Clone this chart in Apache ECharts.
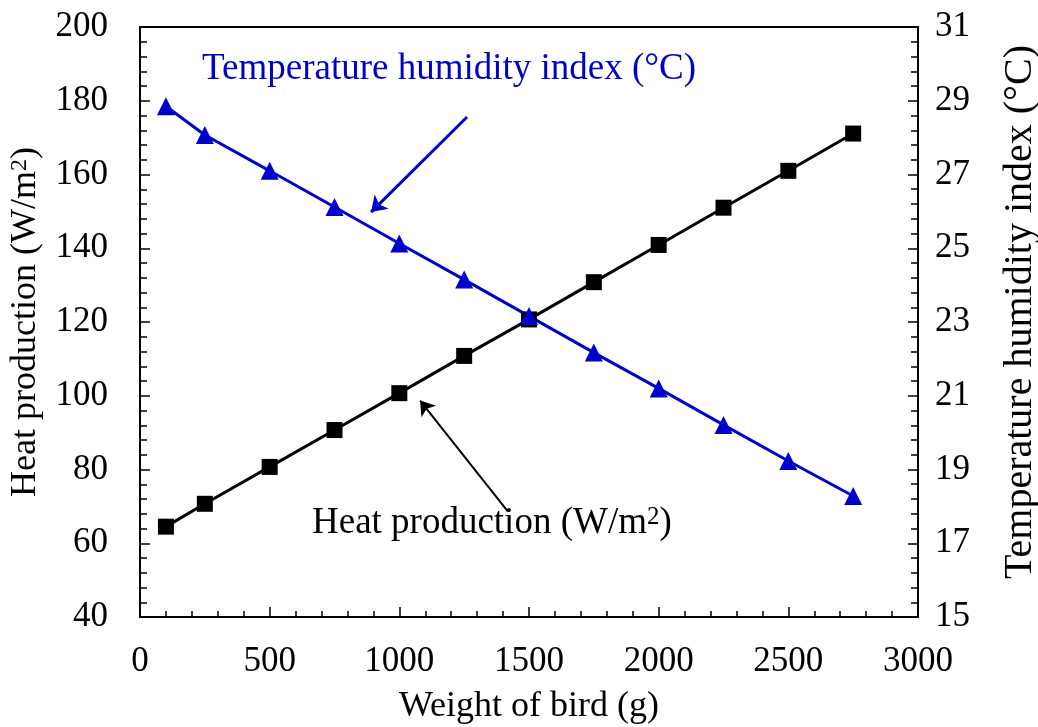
<!DOCTYPE html>
<html>
<head>
<meta charset="utf-8">
<script src="https://cdn.jsdelivr.net/npm/echarts@6/dist/echarts.min.js"></script>
<style>
  html, body { margin: 0; padding: 0; background: #fff; }
  #chart { width: 1038px; height: 727px; }
</style>
</head>
<body>
<div id="chart"></div>
<script>
// weight of bird (g)
var weights = [100, 250, 500, 750, 1000, 1250, 1500, 1750, 2000, 2250, 2500, 2750];
// heat production (W/m2), left axis
var heatProd = [64.5, 70.7, 80.7, 90.7, 100.7, 110.8, 120.7, 130.8, 140.9, 151.0, 161.0, 171.1];
// temperature humidity index (°C), right axis
var thiVals = [28.85, 28.07, 27.10, 26.12, 25.13, 24.15, 23.16, 22.17, 21.20, 20.21, 19.23, 18.28];

var FONT = 'Liberation Serif';
var BLUE = '#0000cc';

function pairs(xs, ys) {
  var out = [];
  for (var i = 0; i < xs.length; i++) out.push([xs[i], ys[i]]);
  return out;
}

var myChart = echarts.init(document.getElementById('chart'));

var supStyle = {
  fontFamily: FONT,
  fontSize: 24,
  verticalAlign: 'top',
  color: '#000'
};

var option = {
  backgroundColor: '#fff',
  animation: false,
  grid: {
    left: 140,
    right: 120,
    top: 27,
    bottom: 110,
    outerBoundsMode: 'none',
    containLabel: false,
    show: true,
    borderColor: '#000',
    borderWidth: 2
  },
  xAxis: {
    type: 'value',
    min: 0,
    max: 3000,
    interval: 500,
    name: 'Weight of bird (g)',
    nameLocation: 'middle',
    nameGap: 72,
    nameTextStyle: { fontFamily: FONT, fontSize: 36, color: '#000' },
    axisLine: { lineStyle: { color: '#000', width: 2 } },
    axisTick: { inside: true, length: 10, lineStyle: { color: '#000', width: 1.5 } },
    minorTick: { show: true, splitNumber: 5, length: 6, lineStyle: { color: '#000', width: 1.5 } },
    splitLine: { show: false },
    axisLabel: {
      fontFamily: FONT, fontSize: 35, color: '#000', margin: 27,
      formatter: function (v) { return String(v); }
    }
  },
  yAxis: [
    {
      type: 'value',
      position: 'left',
      min: 40,
      max: 200,
      interval: 20,
      name: 'Heat production (W/m{sup|2})',
      nameLocation: 'middle',
      nameGap: 96,
      nameTextStyle: { fontFamily: FONT, fontSize: 36, color: '#000', rich: { sup: supStyle } },
      axisLine: { show: true, lineStyle: { color: '#000', width: 2 } },
      axisTick: { inside: true, length: 10, lineStyle: { color: '#000', width: 1.5 } },
      minorTick: { show: true, splitNumber: 5, length: 7, lineStyle: { color: '#000', width: 1.5 } },
      splitLine: { show: false },
      axisLabel: { fontFamily: FONT, fontSize: 35, color: '#000', margin: 32 }
    },
    {
      type: 'value',
      position: 'right',
      min: 15,
      max: 31,
      interval: 2,
      name: 'Temperature humidity index (°C)',
      nameLocation: 'middle',
      nameGap: 82,
      nameTextStyle: { fontFamily: FONT, fontSize: 40, color: '#000', padding: [0, 0, 0, 20] },
      axisLine: { show: true, lineStyle: { color: '#000', width: 2 } },
      axisTick: { inside: true, length: 10, lineStyle: { color: '#000', width: 1.5 } },
      minorTick: { show: true, splitNumber: 5, length: 7, lineStyle: { color: '#000', width: 1.5 } },
      splitLine: { show: false },
      axisLabel: { fontFamily: FONT, fontSize: 35, color: '#000', margin: 17 }
    }
  ],
  graphic: [
    {
      type: 'text',
      left: 202,
      top: 51,
      style: { text: 'Temperature humidity index (°C)', fontFamily: FONT, fontSize: 37, fill: BLUE }
    },
    {
      type: 'text',
      left: 312,
      top: 505,
      style: {
        text: 'Heat production (W/m{sup|2})',
        fontFamily: FONT,
        fontSize: 37,
        fill: '#000',
        rich: { sup: { fontFamily: FONT, fontSize: 25, verticalAlign: 'top', fill: '#000' } }
      }
    }
  ],
  series: [
    {
      name: 'Heat production',
      type: 'line',
      yAxisIndex: 0,
      data: pairs(weights, heatProd),
      symbol: 'rect',
      symbolSize: 16,
      lineStyle: { color: '#000', width: 3 },
      itemStyle: { color: '#000' },
      markLine: {
        silent: true,
        symbol: ['none', 'arrow'],
        symbolSize: 14,
        label: { show: false },
        lineStyle: { color: '#000', width: 2, type: 'solid' },
        data: [[{ coord: [1419, 68.6] }, { coord: [1080, 98.7] }]]
      }
    },
    {
      name: 'Temperature humidity index',
      type: 'line',
      yAxisIndex: 1,
      data: pairs(weights, thiVals),
      symbol: 'triangle',
      symbolSize: 18,
      lineStyle: { color: BLUE, width: 3 },
      itemStyle: { color: BLUE },
      markLine: {
        silent: true,
        symbol: ['none', 'arrow'],
        symbolSize: 15,
        label: { show: false },
        lineStyle: { color: BLUE, width: 3, type: 'solid' },
        data: [[{ coord: [1261, 28.56] }, { coord: [891, 25.98] }]]
      }
    }
  ]
};

myChart.setOption(option);
</script>
</body>
</html>
